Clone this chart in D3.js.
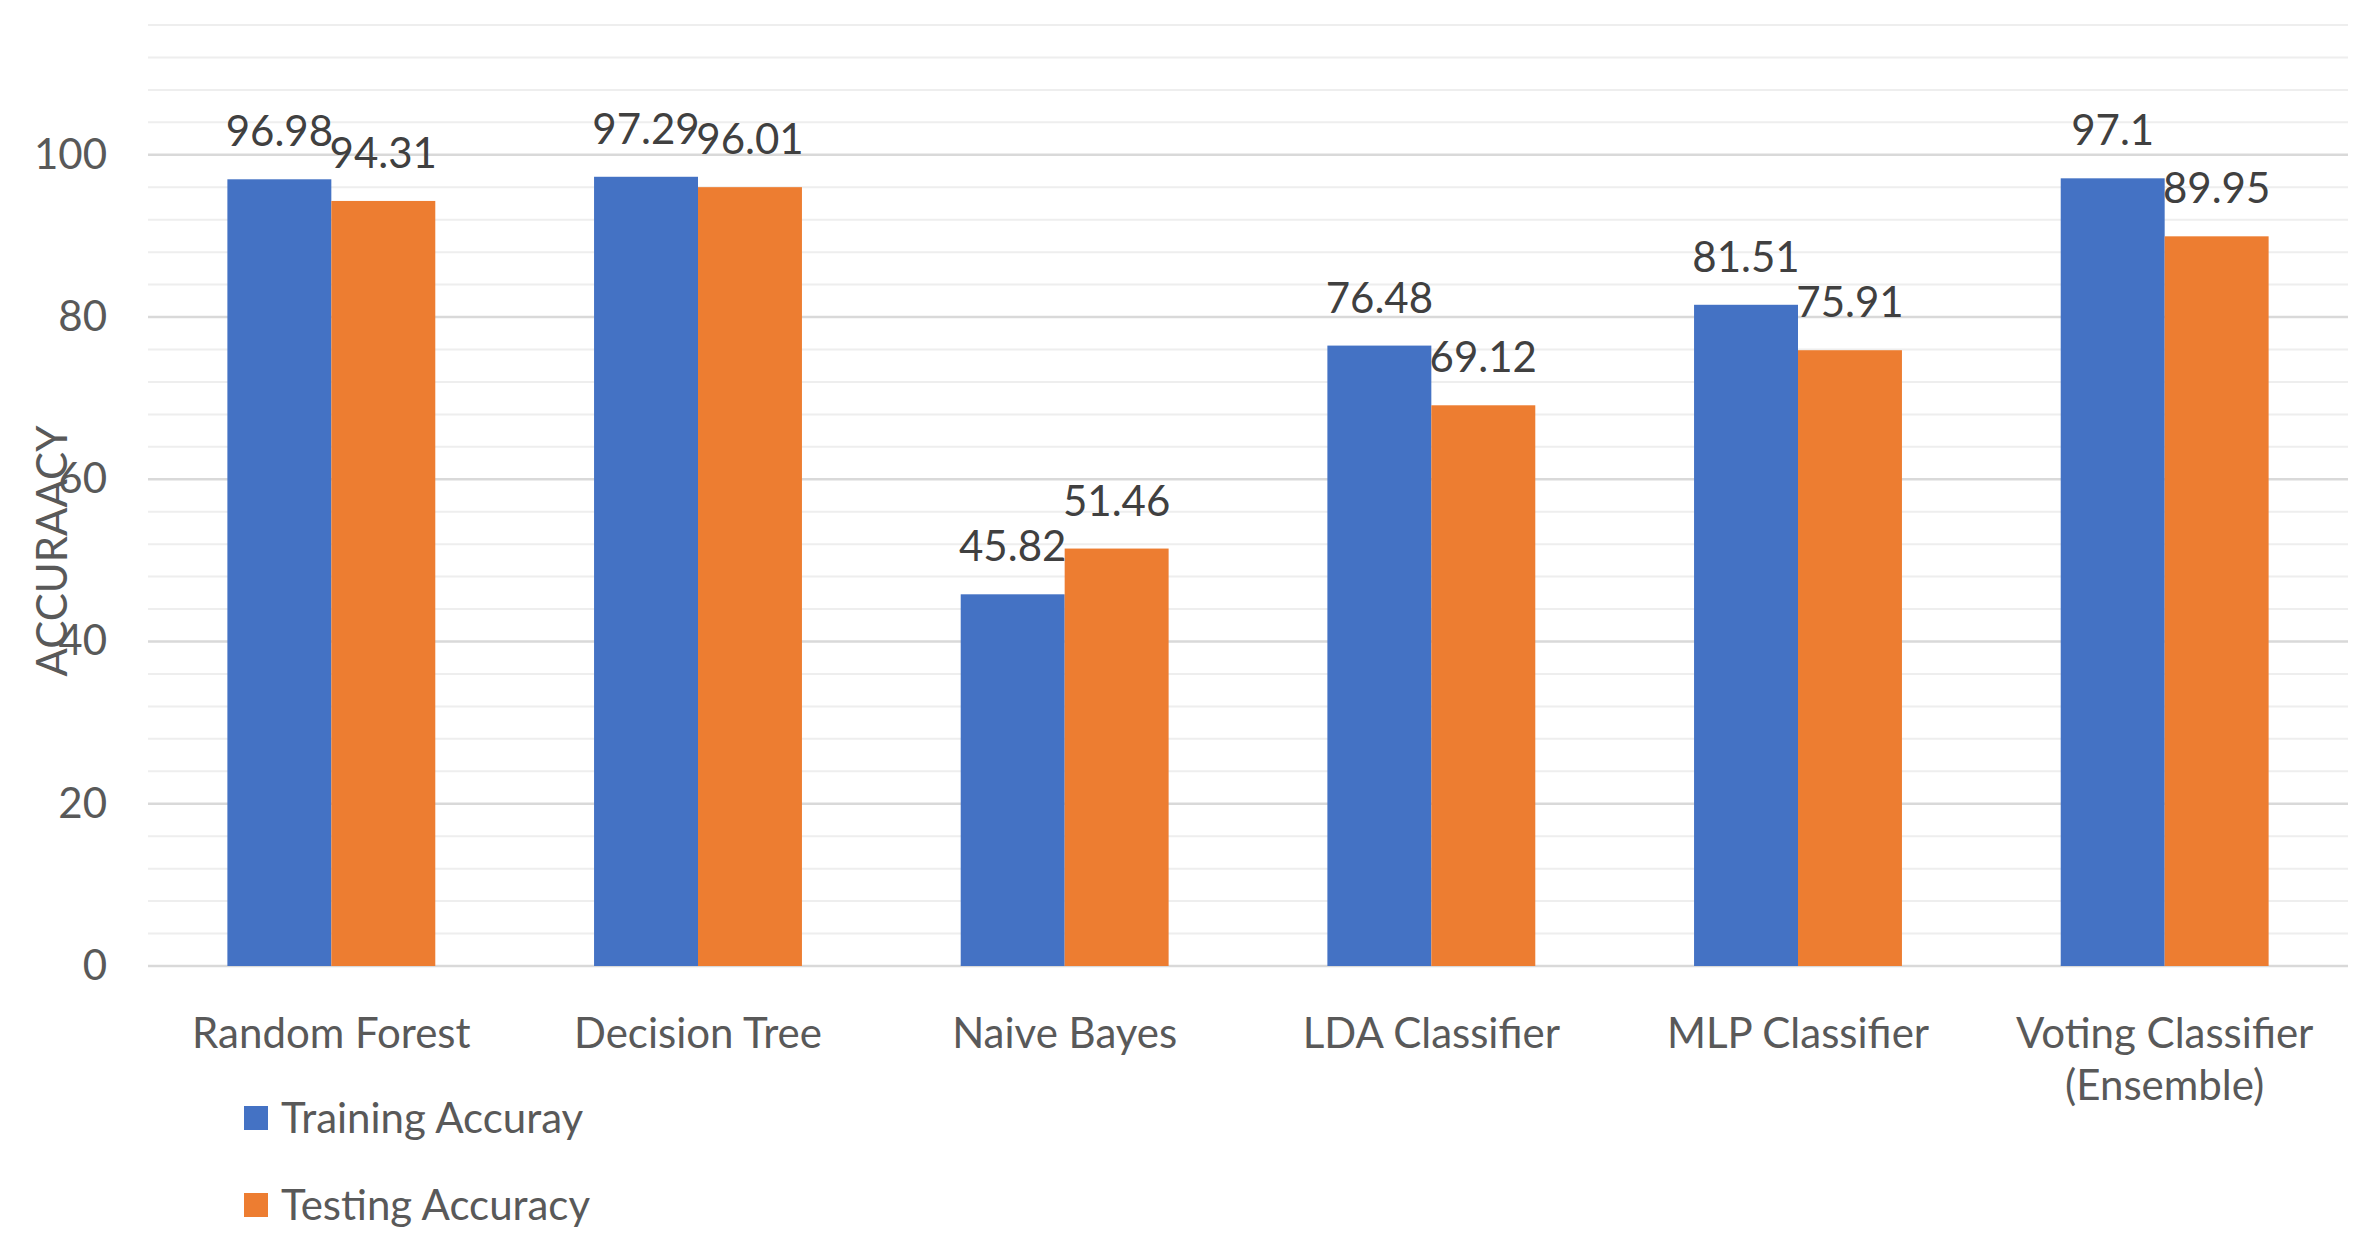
<!DOCTYPE html>
<html>
<head>
<meta charset="utf-8">
<script src="https://cdn.jsdelivr.net/npm/d3@7"></script>
<style>
  body { margin: 0; background: #fff; }
  text { font-family: Lato, "Open Sans", sans-serif; }
</style>
</head>
<body>
<div id="chart"></div>
<script>
// chart values
var categories = ["Random Forest", "Decision Tree", "Naive Bayes", "LDA Classifier", "MLP Classifier", "Voting Classifier (Ensemble)"];
var seriesNames = ["Training Accuray", "Testing Accuracy"];
var training = [96.98, 97.29, 45.82, 76.48, 81.51, 97.1];
var testing = [94.31, 96.01, 51.46, 69.12, 75.91, 89.95];
var yTicks = [0, 20, 40, 60, 80, 100];
var colors = ["#4472C4", "#ED7D31"];

var W = 2379, H = 1248;
var margin = {top: 25, right: 31, bottom: 282, left: 148},
    width = W - margin.left - margin.right,
    height = H - margin.top - margin.bottom;
var fs = 42;

var svg = d3.select("#chart")
  .append("svg")
    .attr("width", W)
    .attr("height", H)
  .append("g")
    .attr("transform", "translate(" + margin.left + "," + margin.top + ")");

var data = categories.map(function(c, i) {
  return {cat: c, values: [training[i], testing[i]]};
});

var x0 = d3.scaleBand()
  .domain(categories)
  .range([0, width])
  .paddingInner(0.433)
  .paddingOuter(0.2165);

var x1 = d3.scaleBand()
  .domain([0, 1])
  .range([0, x0.bandwidth()]);

var y = d3.scaleLinear()
  .domain([0, 116])
  .range([height, 0]);

// gridlines, minor every 4, major every 20
svg.append("g")
  .selectAll("line")
  .data(d3.range(0, 117, 4))
  .enter()
  .append("line")
    .attr("x1", 0)
    .attr("x2", width)
    .attr("y1", function(d) { return y(d); })
    .attr("y2", function(d) { return y(d); })
    .attr("stroke", function(d) { return d % 20 === 0 ? "#d9d9d9" : "#eeeeee"; })
    .attr("stroke-width", function(d) { return d % 20 === 0 ? 2.5 : 2; });

// y axis
var yAxis = svg.append("g")
  .call(d3.axisLeft(y).tickValues(yTicks).tickSize(0).tickPadding(41));
yAxis.select(".domain").remove();
yAxis.selectAll("text")
  .style("font-size", fs + "px")
  .style("font-family", "Lato, sans-serif")
  .attr("fill", "#595959");

// y label
svg.append("text")
  .attr("transform", "rotate(-90)")
  .attr("x", -(551 - margin.top))
  .attr("y", 52 - margin.left)
  .attr("dy", "0.35em")
  .style("text-anchor", "middle")
  .style("font-size", fs + "px")
  .attr("fill", "#595959")
  .text("ACCURAACY");

// bars
var groups = svg.selectAll(".grp")
  .data(data)
  .enter()
  .append("g")
    .attr("class", "grp")
    .attr("transform", function(d) { return "translate(" + x0(d.cat) + ",0)"; });

groups.selectAll("rect")
  .data(function(d) { return d.values.map(function(v, i) { return {i: i, v: v}; }); })
  .enter()
  .append("rect")
    .attr("x", function(d) { return x1(d.i); })
    .attr("width", x1.bandwidth())
    .attr("y", function(d) { return y(d.v); })
    .attr("height", function(d) { return height - y(d.v); })
    .attr("fill", function(d) { return colors[d.i]; });

// data labels
groups.selectAll(".lbl")
  .data(function(d) { return d.values.map(function(v, i) { return {i: i, v: v}; }); })
  .enter()
  .append("text")
    .attr("class", "lbl")
    .attr("x", function(d) { return x1(d.i) + x1.bandwidth() / 2; })
    .attr("y", function(d) { return y(d.v) - 33; })
    .style("text-anchor", "middle")
    .style("font-size", fs + "px")
    .attr("fill", "#404040")
    .text(function(d) { return d.v; });

// x axis labels
var xAxis = svg.append("g")
  .attr("transform", "translate(0," + height + ")")
  .call(d3.axisBottom(x0).tickSize(0).tickPadding(52));
xAxis.select(".domain").remove();
xAxis.selectAll("text")
  .style("font-size", fs + "px")
  .style("font-family", "Lato, sans-serif")
  .attr("fill", "#595959")
  .call(wrap, x0.step() * 0.95);

function wrap(text, w) {
  text.each(function() {
    var t = d3.select(this),
        words = t.text().split(/\s+/).reverse(),
        word, line = [], lineNumber = 0,
        yy = t.attr("y"),
        dy = parseFloat(t.attr("dy")),
        tspan = t.text(null).append("tspan").attr("x", 0).attr("y", yy).attr("dy", dy + "em");
    while ((word = words.pop())) {
      line.push(word);
      tspan.text(line.join(" "));
      if (tspan.node().getComputedTextLength() > w && line.length > 1) {
        line.pop();
        tspan.text(line.join(" "));
        line = [word];
        tspan = t.append("tspan").attr("x", 0).attr("y", yy)
          .attr("dy", (++lineNumber * 1.25 + dy) + "em").text(word);
      }
    }
  });
}

// legend
var legend = svg.selectAll(".leg")
  .data(seriesNames)
  .enter()
  .append("g")
    .attr("class", "leg")
    .attr("transform", function(d, i) { return "translate(" + (244 - margin.left) + "," + (1118 + i * 87 - margin.top) + ")"; });
legend.append("rect")
  .attr("x", 0).attr("y", -12)
  .attr("width", 24).attr("height", 24)
  .attr("fill", function(d, i) { return colors[i]; });
legend.append("text")
  .attr("x", 37)
  .attr("dy", "0.35em")
  .style("font-size", fs + "px")
  .attr("fill", "#595959")
  .text(function(d) { return d; });
</script>
</body>
</html>
